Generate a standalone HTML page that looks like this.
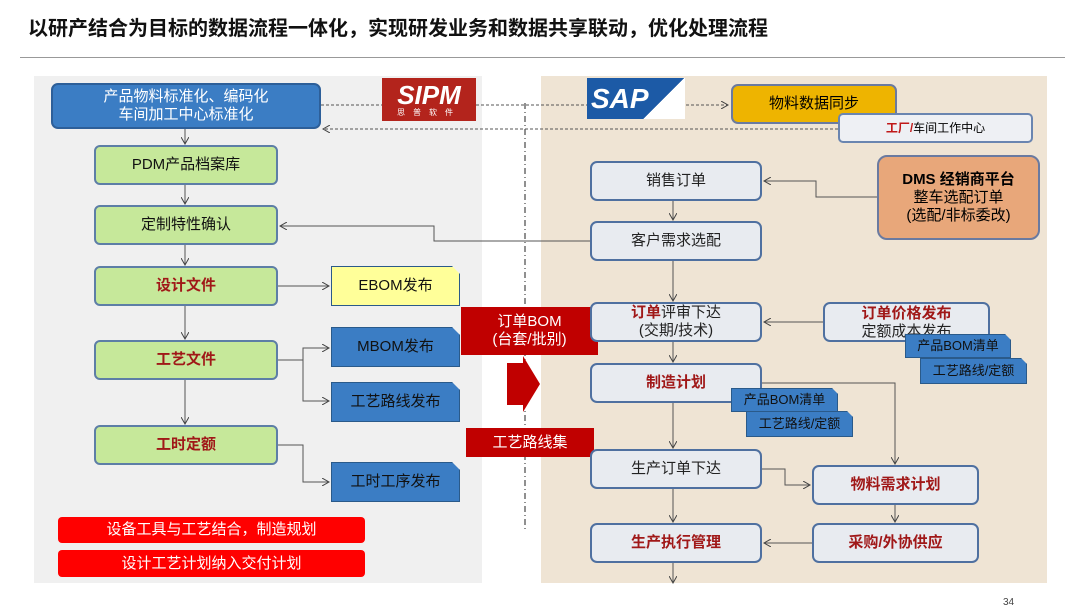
<!DOCTYPE html>
<html><head><meta charset="utf-8"><style>
*{margin:0;padding:0;box-sizing:border-box}
body{width:1080px;height:613px;background:#fff;position:relative;overflow:hidden;font-family:"Liberation Sans","Noto Sans CJK SC",sans-serif}
.a{position:absolute;display:flex;align-items:center;justify-content:center;text-align:center;line-height:1.2}
.g{background:#c6e89a;border:2px solid #5d7ea6;border-radius:6px;font-size:15px;color:#111}
.r{background:#e8ebf0;border:2px solid #4f70a0;border-radius:7px;font-size:15px;color:#222}
.b{background:#3b7dc4;border:1px solid #2a5a8a;font-size:15px;color:#111;clip-path:polygon(0 0,calc(100% - 8px) 0,100% 8px,100% 100%,0 100%)}
.sb{background:#3b7dc4;border:1px solid #2a5a8a;font-size:13px;color:#111;clip-path:polygon(0 0,calc(100% - 6px) 0,100% 6px,100% 100%,0 100%)}
.dr{color:#a01818;font-weight:bold}
</style></head><body>
<div style="position:absolute;left:28px;top:12px;font-size:20px;font-weight:bold;color:#111">以研产结合为目标的数据流程一体化，实现研发业务和数据共享联动，优化处理流程</div>
<div style="position:absolute;left:20px;top:57px;width:1045px;height:1px;background:#999"></div>
<div style="position:absolute;left:34px;top:76px;width:448px;height:507px;background:#f0f0f0"></div>
<div style="position:absolute;left:541px;top:76px;width:506px;height:507px;background:#efe4d4"></div>
<svg style="position:absolute;left:0;top:0" width="1080" height="613">
<defs><marker id="m" markerWidth="8" markerHeight="8" refX="7" refY="4" orient="auto"><path d="M0,0 L7,4 L0,8" fill="none" stroke="#444" stroke-width="1"/></marker></defs>
<g stroke="#555" stroke-width="1" fill="none">
<line x1="525" y1="103" x2="525" y2="530" stroke="#222" stroke-dasharray="6,3,1,3"/>
<line x1="321" y1="105" x2="728" y2="105" stroke-dasharray="3,2" marker-end="url(#m)"/>
<line x1="838" y1="129" x2="323" y2="129" stroke-dasharray="3,2" marker-end="url(#m)"/>
<line x1="185" y1="129" x2="185" y2="144" marker-end="url(#m)"/>
<line x1="185" y1="185" x2="185" y2="204" marker-end="url(#m)"/>
<line x1="185" y1="245" x2="185" y2="265" marker-end="url(#m)"/>
<line x1="185" y1="306" x2="185" y2="339" marker-end="url(#m)"/>
<line x1="185" y1="380" x2="185" y2="424" marker-end="url(#m)"/>
<line x1="278" y1="286" x2="329" y2="286" marker-end="url(#m)"/>
<polyline points="278,360 303,360 303,348 329,348" marker-end="url(#m)"/>
<polyline points="303,360 303,401 329,401" marker-end="url(#m)"/>
<polyline points="278,445 303,445 303,482 329,482" marker-end="url(#m)"/>
<polyline points="590,241 434,241 434,226 280,226" marker-end="url(#m)"/>
<line x1="673" y1="201" x2="673" y2="220" marker-end="url(#m)"/>
<line x1="673" y1="261" x2="673" y2="301" marker-end="url(#m)"/>
<line x1="673" y1="342" x2="673" y2="362" marker-end="url(#m)"/>
<line x1="673" y1="403" x2="673" y2="448" marker-end="url(#m)"/>
<line x1="673" y1="489" x2="673" y2="522" marker-end="url(#m)"/>
<line x1="673" y1="563" x2="673" y2="583" marker-end="url(#m)"/>
<polyline points="877,197 816,197 816,181 764,181" marker-end="url(#m)"/>
<line x1="823" y1="322" x2="764" y2="322" marker-end="url(#m)"/>
<polyline points="762,383 895,383 895,464" marker-end="url(#m)"/>
<polyline points="762,469 785,469 785,485 810,485" marker-end="url(#m)"/>
<line x1="895" y1="505" x2="895" y2="522" marker-end="url(#m)"/>
<line x1="812" y1="543" x2="764" y2="543" marker-end="url(#m)"/>
</g>
<polygon points="507,363 523,363 523,356 540,384 523,412 523,405 507,405" fill="#c00000"/>
</svg>
<div class="a" style="left:51px;top:83px;width:270px;height:46px;background:#3b7dc4;border:2px solid #2d5f99;border-radius:7px;color:#fff;font-size:15px">产品物料标准化、编码化<br>车间加工中心标准化</div>
<div class="a" style="left:382px;top:78px;width:94px;height:43px;background:#b3241c;flex-direction:column;color:#fff"><div style="font-size:26px;font-weight:bold;font-style:italic;line-height:26px">SIPM</div><div style="font-size:8px;letter-spacing:8px">思普软件</div></div>
<div class="a" style="left:587px;top:78px;width:98px;height:41px;background:linear-gradient(135deg,#1c5aa6 70%,#fff 70%);color:#fff;font-size:28px;font-weight:bold;font-style:italic;justify-content:flex-start;padding-left:4px">SAP</div>
<div class="a" style="left:731px;top:84px;width:166px;height:40px;background:#eeb400;border:2px solid #6a7aa0;border-radius:7px;font-size:15px">物料数据同步</div>
<div class="a" style="left:838px;top:113px;width:195px;height:30px;background:#eef0f4;border:2px solid #6a85b0;border-radius:5px;font-size:12px"><span class="dr" style="color:#c01818">工厂/</span>车间工作中心</div>
<div class="a g" style="left:94px;top:145px;width:184px;height:40px">PDM产品档案库</div>
<div class="a g" style="left:94px;top:205px;width:184px;height:40px">定制特性确认</div>
<div class="a g dr" style="left:94px;top:266px;width:184px;height:40px;color:#a01818">设计文件</div>
<div class="a g dr" style="left:94px;top:340px;width:184px;height:40px;color:#a01818">工艺文件</div>
<div class="a g dr" style="left:94px;top:425px;width:184px;height:40px;color:#a01818">工时定额</div>
<div class="a b" style="left:331px;top:266px;width:129px;height:40px;background:#ffff99">EBOM发布</div>
<div class="a b" style="left:331px;top:327px;width:129px;height:40px">MBOM发布</div>
<div class="a b" style="left:331px;top:382px;width:129px;height:40px">工艺路线发布</div>
<div class="a b" style="left:331px;top:462px;width:129px;height:40px">工时工序发布</div>
<div class="a" style="left:58px;top:517px;width:307px;height:26px;background:#f00;border-radius:4px;color:#fff;font-size:15px">设备工具与工艺结合，制造规划</div>
<div class="a" style="left:58px;top:550px;width:307px;height:27px;background:#f00;border-radius:4px;color:#fff;font-size:15px">设计工艺计划纳入交付计划</div>
<div class="a" style="left:461px;top:307px;width:137px;height:48px;background:#c00000;color:#fff;font-size:15px">订单BOM<br>(台套/批别)</div>
<div class="a" style="left:466px;top:428px;width:128px;height:29px;background:#c00000;color:#fff;font-size:15px">工艺路线集</div>
<div class="a r" style="left:590px;top:161px;width:172px;height:40px">销售订单</div>
<div class="a r" style="left:590px;top:221px;width:172px;height:40px">客户需求选配</div>
<div class="a r" style="left:590px;top:302px;width:172px;height:40px"><div><span class="dr">订单</span>评审下达<br>(交期/技术)</div></div>
<div class="a r dr" style="left:590px;top:363px;width:172px;height:40px">制造计划</div>
<div class="a r" style="left:590px;top:449px;width:172px;height:40px">生产订单下达</div>
<div class="a r dr" style="left:590px;top:523px;width:172px;height:40px">生产执行管理</div>
<div class="a" style="left:877px;top:155px;width:163px;height:85px;background:#e8a77a;border:2px solid #6a7aa0;border-radius:10px;font-size:15px"><div><b>DMS 经销商平台</b><br>整车选配订单<br>(选配/非标委改)</div></div>
<div class="a r" style="left:823px;top:302px;width:167px;height:40px;align-items:flex-start;padding-top:1px"><div><span class="dr">订单价格发布</span><br>定额成本发布</div></div>
<div class="a sb" style="left:905px;top:334px;width:106px;height:24px">产品BOM清单</div>
<div class="a sb" style="left:920px;top:358px;width:107px;height:26px">工艺路线/定额</div>
<div class="a sb" style="left:731px;top:388px;width:107px;height:24px">产品BOM清单</div>
<div class="a sb" style="left:746px;top:411px;width:107px;height:26px">工艺路线/定额</div>
<div class="a r dr" style="left:812px;top:465px;width:167px;height:40px">物料需求计划</div>
<div class="a r dr" style="left:812px;top:523px;width:167px;height:40px">采购/外协供应</div>
<div style="position:absolute;left:1003px;top:597px;font-size:10px;color:#444">34</div>
</body></html>
